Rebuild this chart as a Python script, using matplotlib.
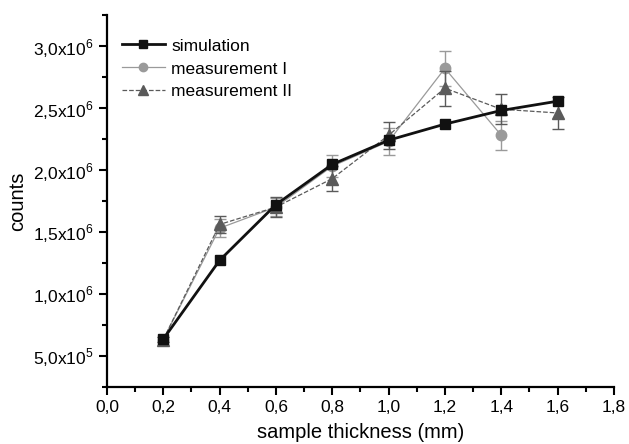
import numpy as np
import matplotlib
matplotlib.use("Agg")
import matplotlib.pyplot as plt
from matplotlib.ticker import MultipleLocator

plt.rcParams['font.family'] = ['Liberation Sans', 'DejaVu Sans']
plt.rcParams['mathtext.fontset'] = 'custom'
plt.rcParams['mathtext.rm'] = 'Liberation Sans'

# thickness (mm)
x_sim = [0.2, 0.4, 0.6, 0.8, 1.0, 1.2, 1.4, 1.6]
y_sim = [0.634e6, 1.27e6, 1.72e6, 2.045e6, 2.24e6, 2.37e6, 2.48e6, 2.555e6]

x_m1 = [0.2, 0.4, 0.6, 0.8, 1.0, 1.2, 1.4]
y_m1 = [0.63e6, 1.53e6, 1.70e6, 2.03e6, 2.23e6, 2.82e6, 2.28e6]
e_m1 = [0.02e6, 0.07e6, 0.07e6, 0.09e6, 0.11e6, 0.14e6, 0.115e6]

x_m2 = [0.2, 0.4, 0.6, 0.8, 1.0, 1.2, 1.4, 1.6]
y_m2 = [0.63e6, 1.56e6, 1.70e6, 1.93e6, 2.28e6, 2.66e6, 2.49e6, 2.46e6]
e_m2 = [0.02e6, 0.07e6, 0.08e6, 0.10e6, 0.11e6, 0.14e6, 0.12e6, 0.13e6]

x_ticks = [0.0, 0.2, 0.4, 0.6, 0.8, 1.0, 1.2, 1.4, 1.6, 1.8]
x_ticklabels = ['0,0', '0,2', '0,4', '0,6', '0,8', '1,0', '1,2', '1,4', '1,6', '1,8']
y_ticks = [0.5e6, 1.0e6, 1.5e6, 2.0e6, 2.5e6, 3.0e6]
y_ticklabels = [r'5,0x10$^5$', r'1,0x10$^6$', r'1,5x10$^6$', r'2,0x10$^6$', r'2,5x10$^6$', r'3,0x10$^6$']

fig = plt.figure(figsize=(6.29, 4.44), dpi=100)
ax = fig.add_axes([0.170, 0.129, 0.806, 0.837])

c1 = ax.errorbar(x_m1, y_m1, yerr=e_m1, color='#9a9a9a', lw=0.9, marker='o', ms=7.5,
                 capsize=4, elinewidth=1.0, capthick=1.0, zorder=2)
c2 = ax.errorbar(x_m2, y_m2, yerr=e_m2, color='#5a5a5a', lw=0.9, ls='--', marker='^', ms=8.5,
                 capsize=4, elinewidth=1.0, capthick=1.0, zorder=3)
l_sim, = ax.plot(x_sim, y_sim, color='#111111', lw=2.0, marker='s', ms=6.5, zorder=4)

ax.set_xlim(0.0, 1.8)
ax.set_ylim(0.25e6, 3.25e6)
ax.set_xticks(x_ticks)
ax.set_xticklabels(x_ticklabels)
ax.set_yticks(y_ticks)
ax.set_yticklabels(y_ticklabels)
ax.xaxis.set_minor_locator(MultipleLocator(0.1))
ax.yaxis.set_minor_locator(MultipleLocator(0.25e6))

for s in ['top', 'right']:
    ax.spines[s].set_visible(False)
for s in ['left', 'bottom']:
    ax.spines[s].set_linewidth(1.6)
ax.tick_params(which='major', direction='out', length=6, width=1.5, labelsize=12.5)
ax.tick_params(which='minor', direction='out', length=3.5, width=1.5)

ax.set_xlabel('sample thickness (mm)', fontsize=14.5, labelpad=6)
ax.set_ylabel('counts', fontsize=14.5, labelpad=4)

ax.legend([l_sim, c1[0], c2[0]], ['simulation', 'measurement I', 'measurement II'],
          loc='upper left', bbox_to_anchor=(0.005, 0.97), frameon=False, fontsize=12.5,
          handlelength=2.5, handletextpad=0.35, labelspacing=0.45, borderaxespad=0.3,
          markerscale=0.8)

fig.savefig('out.png', dpi=100)
